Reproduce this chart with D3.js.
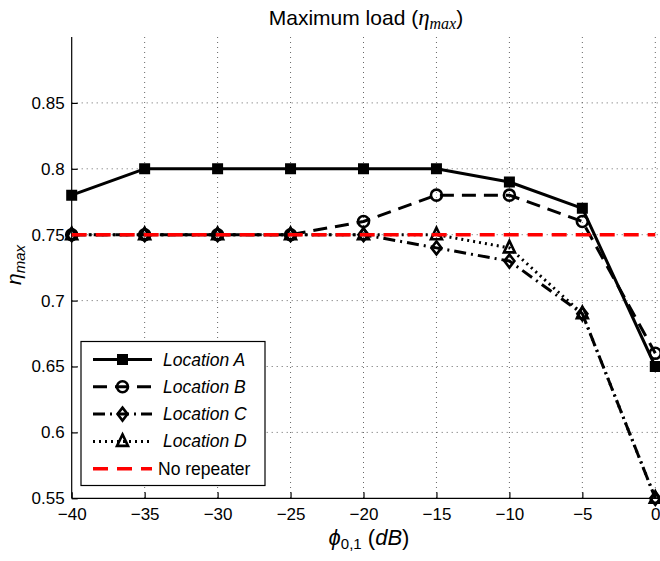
<!DOCTYPE html>
<html><head><meta charset="utf-8">
<script src="https://cdn.jsdelivr.net/npm/d3@7"></script>
<style>
body{margin:0;background:#fff;}
svg{display:block;}
text{font-family:"Liberation Sans",Arial,sans-serif;}
</style></head>
<body>
<script>
const xValues = [-40,-35,-30,-25,-20,-15,-10,-5,0];
const locationA = [0.78,0.80,0.80,0.80,0.80,0.80,0.79,0.77,0.65];
const locationB = [0.75,0.75,0.75,0.75,0.76,0.78,0.78,0.76,0.66];
const locationC = [0.75,0.75,0.75,0.75,0.75,0.74,0.73,0.69,0.55];
const locationD = [0.75,0.75,0.75,0.75,0.75,0.75,0.74,0.69,0.55];
const noRepeater = [0.75,0.75,0.75,0.75,0.75,0.75,0.75,0.75,0.75];
const xTicks = [-40,-35,-30,-25,-20,-15,-10,-5,0];
const yTicks = [0.55,0.6,0.65,0.7,0.75,0.8,0.85];
const seriesNames = ["Location A","Location B","Location C","Location D","No repeater"];

const W=660,H=561;
const L=71.7,R=655.3,T=37,B=498.3;
const svg=d3.select("body").append("svg").attr("width",W).attr("height",H);
const x=d3.scaleLinear().domain([-40,0]).range([L,R]);
const y=d3.scaleLinear().domain([0.55,0.9]).range([B,T]);

// grid
const grid=svg.append("g");
xTicks.slice(1).forEach(v=>grid.append("line").attr("x1",x(v)).attr("x2",x(v)).attr("y1",T).attr("y2",B)
  .attr("stroke","#666").attr("stroke-width",1).attr("stroke-dasharray","1,4"));
yTicks.slice(1).forEach(v=>grid.append("line").attr("x1",L).attr("x2",W).attr("y1",y(v)).attr("y2",y(v))
  .attr("stroke","#666").attr("stroke-width",1).attr("stroke-dasharray","1,4"));

// axes
const fmtX=d=>d<0?"\u2212"+Math.abs(d):String(d);
const xa=svg.append("g").attr("transform",`translate(0,${B})`)
  .call(d3.axisBottom(x).tickValues(xTicks).tickFormat(fmtX).tickSizeInner(-6).tickSizeOuter(0).tickPadding(10));
const ya=svg.append("g").attr("transform",`translate(${L},0)`)
  .call(d3.axisLeft(y).tickValues(yTicks).tickFormat(d=>String(+d.toFixed(2))).tickSizeInner(-6).tickSizeOuter(0).tickPadding(7));
[xa,ya].forEach(a=>{a.selectAll("text").attr("font-size",17).attr("fill","#000").attr("font-family","'Liberation Sans',Arial,sans-serif");
  a.select(".domain").attr("stroke","#000").attr("stroke-width",1.2);
  a.selectAll(".tick line").attr("stroke","#000").attr("stroke-width",1.2);});
ya.select(".domain").attr("d",`M0,${B}V${T}`);
xa.select(".domain").attr("d",`M${L},0H${W}`);

const styles=[
  {data:locationA,dash:null,marker:"square"},
  {data:locationB,dash:"14,8",marker:"circle"},
  {data:locationC,dash:"12,5,2,5",marker:"diamond"},
  {data:locationD,dash:"2,4",marker:"triangle"},
  {data:noRepeater,dash:"15,9",marker:null,color:"#ff0000",width:3.5}
];
const line=d3.line().x((d,i)=>x(xValues[i])).y(d=>y(d));
function markerPath(type){
  if(type==="square") return "M-4.5,-4.5H4.5V4.5H-4.5Z";
  if(type==="circle") return d3.symbol().type(d3.symbolCircle).size(95)();
  if(type==="diamond") return "M0,-6.5L5,0L0,6.5L-5,0Z";
  return "M0,-7L5.5,4.5L-5.5,4.5Z";
}
function drawMarker(g,type,cx,cy){
  g.append("path").attr("d",markerPath(type))
    .attr("transform",`translate(${cx},${cy})`)
    .attr("stroke","#000").attr("stroke-width",type==="square"?2:2.6).attr("stroke-linejoin","miter")
    .attr("fill", type==="square" ? "#000" : "none");
}
const plot=svg.append("g");
styles.forEach(s=>{
  plot.append("path").datum(s.data).attr("d",line).attr("fill","none")
    .attr("stroke",s.color||"#000").attr("stroke-width",s.width||3)
    .attr("stroke-dasharray",s.dash).attr("stroke-linejoin","round");
  if(s.marker){s.data.forEach((v,i)=>drawMarker(plot,s.marker,x(xValues[i]),y(v)));}
});

// legend
const lg=svg.append("g");
lg.append("rect").attr("x",81).attr("y",341.5).attr("width",184).attr("height",144)
  .attr("fill","#fff").attr("stroke","#000").attr("stroke-width",1.2);
styles.forEach((s,i)=>{
  const yy=359.5+i*27.3;
  lg.append("line").attr("x1",93).attr("x2",152).attr("y1",yy).attr("y2",yy)
    .attr("stroke",s.color||"#000").attr("stroke-width",s.width||3).attr("stroke-dasharray",s.dash);
  if(s.marker) drawMarker(lg,s.marker,122.5,yy);
  lg.append("text").attr("x",i<4?163:158).attr("y",yy+6).attr("font-size",17.5)
    .attr("font-style",i<4?"italic":"normal").text(seriesNames[i]);
});

// title
const tt=svg.append("text").attr("x",366).attr("y",25).attr("text-anchor","middle").attr("font-size",21)
  .attr("font-family","'Open Sans','DejaVu Sans',sans-serif");
tt.append("tspan").text("Maximum load (");
tt.append("tspan").attr("font-family","'Liberation Serif',serif").attr("font-style","italic").attr("font-size",23).text("η");
tt.append("tspan").attr("font-family","'Liberation Serif',serif").attr("font-style","italic").attr("font-size",16).attr("dy",4).text("max");
tt.append("tspan").attr("dy",-4).text(")");

// x label
const xl=svg.append("text").attr("x",369).attr("y",545).attr("text-anchor","middle").attr("font-size",22)
  .attr("font-family","'Liberation Serif',serif");
xl.append("tspan").attr("font-style","italic").text("ϕ");
xl.append("tspan").attr("font-size",15).attr("dy",4).text("0,1");
xl.append("tspan").attr("dy",-4).text(" (");
xl.append("tspan").attr("font-style","italic").text("dB");
xl.append("tspan").text(")");

// y label
const yl=svg.append("text").attr("transform","translate(21,265) rotate(-90)").attr("text-anchor","middle")
  .attr("font-size",21).attr("font-family","'Liberation Serif',serif");
yl.append("tspan").attr("font-style","italic").text("η");
yl.append("tspan").attr("font-style","italic").attr("font-size",15).attr("dy",4).text("max");
</script>
</body></html>
